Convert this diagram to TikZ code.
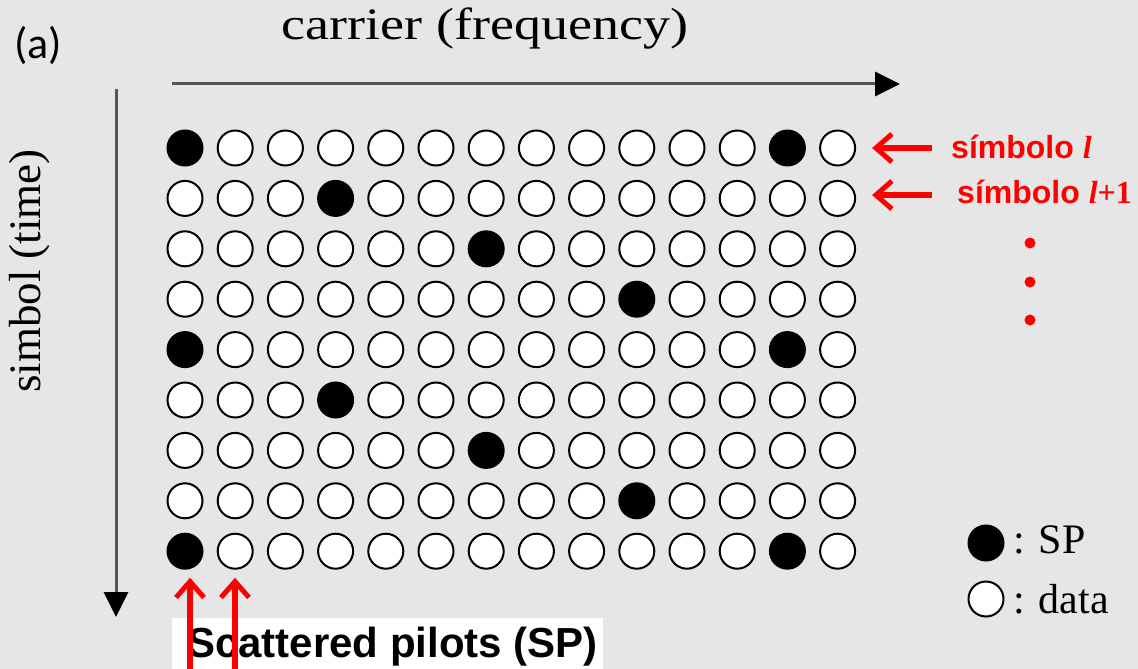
\documentclass[tikz,border=0pt]{standalone}
\usepackage{fontspec}
\setmainfont{Liberation Serif}
\setsansfont{Liberation Sans}
\newfontfamily\calfont{Carlito}
\usetikzlibrary{arrows.meta}
\definecolor{bg}{RGB}{230,230,230}
\definecolor{axisgray}{RGB}{85,85,85}

\begin{document}
\begin{tikzpicture}[x=1pt,y=-1pt]
	\tikzstyle{dat} = [circle, draw=black, fill=white, line width=2pt, minimum size=35pt, inner sep=0pt]
	\tikzstyle{pilot} = [circle, draw=black, fill=black, line width=2pt, minimum size=35pt, inner sep=0pt]
	\tikzstyle{axis} = [draw=axisgray, line width=3pt, -{Triangle[length=25pt,width=24pt,color=black]}]
	\tikzstyle{redarrow} = [draw=red, line width=5.5pt, -{Straight Barb[length=16pt,width=28pt,line width=5pt]}]
	\tikzstyle{dot} = [circle, fill=red, minimum size=11pt, inner sep=0pt]
	\tikzstyle{lab} = [inner sep=0pt]

	\fill[bg] (0,0) rectangle (1138,669);
	\useasboundingbox (0,0) rectangle (1138,669);

	\node[lab, font=\calfont\fontsize{44}{48}\selectfont] (tag) at (38,45) {(a)};

	% axes
	\node[lab, font=\fontsize{45}{50}\selectfont, xscale=1.2, anchor=base] (freq) at (485,40) {carrier (frequency)};
	\node[lab, font=\fontsize{45}{50}\selectfont, rotate=90, anchor=base] (time) at (40,271) {simbol (time)};
	\coordinate (f0) at (172,84);
	\coordinate (f1) at (900,84);
	\draw[axis] (f0) -- (f1);
	\coordinate (t0) at (116,89);
	\coordinate (t1) at (116,617);
	\draw[axis] (t0) -- (t1);

	% carriers x symbols, pilots shift by 3 carriers each symbol
	\foreach \r in {0,...,8} {
		\foreach \c in {0,...,13} {
			\pgfmathtruncatemacro{\k}{mod(\c-3*\r+36,12)}
			\ifnum\k=0
				\node[pilot] (c-\r-\c) at (185+50.2*\c, 148+50.4*\r) {};
			\else
				\node[dat] (c-\r-\c) at (185+50.2*\c, 148+50.4*\r) {};
			\fi
		}
	}

	% symbol labels
	\node[lab, text=red, font=\sffamily\bfseries\fontsize{32}{36}\selectfont, anchor=base west] (sym0) at (951,158) {símbolo {\rmfamily\itshape l}};
	\node[lab, text=red, font=\sffamily\bfseries\fontsize{32}{36}\selectfont, anchor=base west] (sym1) at (957,203) {símbolo {\rmfamily\itshape l}{\rmfamily +1}};
	\coordinate (s0) at (932,148);
	\coordinate (s1) at (932,195);
	\draw[redarrow, shorten >=16pt] (s0) -- (s0 -| c-0-13.east);
	\draw[redarrow, shorten >=16pt] (s1) -- (s1 -| c-1-13.east);
	\node[dot] (d1) at (1030,243) {};
	\node[dot] (d2) at (1030,282) {};
	\node[dot] (d3) at (1030,320) {};

	% scattered pilots box
	\fill[white] (172,618) rectangle (603,669);
	\node[lab, font=\sffamily\bfseries\fontsize{42}{46}\selectfont, anchor=base west] (sp) at (187,657) {Scattered pilots (SP)};
	\coordinate (p0) at (190,669);
	\coordinate (p1) at (235,669);
	\draw[redarrow, shorten >=8pt] (p0) -- (p0 |- c-8-0.south);
	\draw[redarrow, shorten >=8pt] (p1) -- (p1 |- c-8-1.south);

	% legend
	\node[pilot] (lsp) at (986,543) {};
	\node[dat] (ldat) at (986,599) {};
	\node[lab, font=\fontsize{42}{46}\selectfont, anchor=base west] (tsp) at (1013,553) {: SP};
	\node[lab, font=\fontsize{42}{46}\selectfont, anchor=base west] (tdat) at (1013,613) {: data};
\end{tikzpicture}
\end{document}
